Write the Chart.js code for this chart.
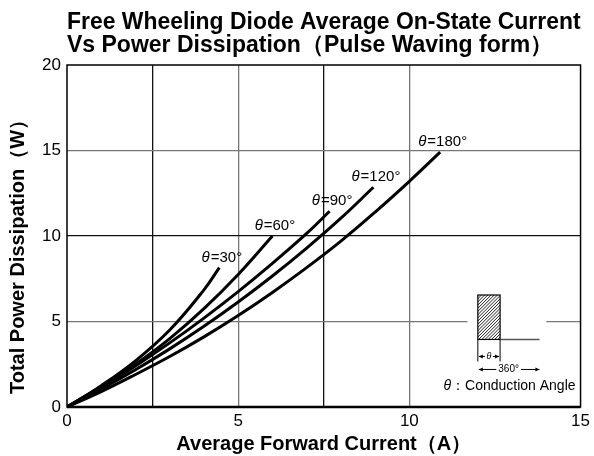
<!DOCTYPE html>
<html>
<head>
<meta charset="utf-8">
<script src="https://cdn.jsdelivr.net/npm/chart.js@4/dist/chart.umd.min.js"></script>
<style>
  html, body { margin: 0; padding: 0; background: #fff; }
  #wrap { width: 594px; height: 456px; }
</style>
</head>
<body>
<div id="wrap"><canvas id="pd"></canvas></div>
<script>
// conduction angles and curves
const angles = ['30', '60', '90', '120', '180'];

const x30 = [0, 1, 2, 3, 4, 4.45];
const p30 = [0, 1.25, 2.7, 4.5, 6.85, 8.15];

const x60 = [0, 1, 2, 3, 4, 5, 6];
const p60 = [0, 1.2, 2.5, 4.0, 5.75, 7.75, 10.0];

const x90 = [0, 1, 2, 3, 4, 5, 6, 7, 7.67];
const p90 = [0, 1.15, 2.4, 3.75, 5.2, 6.75, 8.4, 10.15, 11.45];

const x120 = [0, 1, 2, 3, 4, 5, 6, 7, 8, 8.95];
const p120 = [0, 1.05, 2.18, 3.4, 4.72, 6.14, 7.66, 9.29, 11.04, 12.85];

const x180 = [0, 1, 2, 3, 4, 5, 6, 7, 8, 9, 10, 10.9];
const p180 = [0, 0.9, 1.9, 2.95, 4.1, 5.35, 6.7, 8.15, 9.7, 11.4, 13.2, 14.9];

const xTicks = [0, 5, 10, 15];
const yTicks = [0, 5, 10, 15, 20];

const titleLines = [
    'Free Wheeling Diode Average On-State Current',
    'Vs Power Dissipation（Pulse Waving form）',
];
const yTitle = 'Total Power Dissipation（W）';
const xTitle = 'Average Forward Current（A）';

const FONT = '"Liberation Sans", Arial, sans-serif';

const pts = (xs, ys) => xs.map((x, i) => ({ x: x, y: ys[i] }));
const curves = [
    pts(x30, p30),
    pts(x60, p60),
    pts(x90, p90),
    pts(x120, p120),
    pts(x180, p180),
];

const datasets = curves.map((c, i) => ({
    label: 'θ=' + angles[i] + '°',
    data: c,
    borderColor: '#000',
    borderWidth: 3,
    pointRadius: 0,
    fill: false,
    tension: 0.4,
}));

// title, frame, curve labels and the little waveform inset
const decorations = {
    id: 'decorations',
    beforeDatasetsDraw(chart) {
        const { ctx, scales } = chart;
        const xs = scales.x, ys = scales.y;
        // gap in the 5 W grid line behind the inset
        ctx.save();
        ctx.fillStyle = '#fff';
        ctx.fillRect(xs.getPixelForValue(11.7), ys.getPixelForValue(5) - 2,
            xs.getPixelForValue(14.0) - xs.getPixelForValue(11.7), 4);
        ctx.restore();
    },
    afterDraw(chart) {
        const { ctx, chartArea: a, scales } = chart;
        const xs = scales.x, ys = scales.y;
        ctx.save();

        // frame
        ctx.strokeStyle = '#000';
        ctx.lineWidth = 1.5;
        ctx.strokeRect(a.left, a.top, a.right - a.left, a.bottom - a.top);
        ctx.lineWidth = 2.5;
        ctx.beginPath();
        ctx.moveTo(a.left, a.bottom);
        ctx.lineTo(a.right, a.bottom);
        ctx.stroke();

        // title
        ctx.fillStyle = '#000';
        ctx.font = 'bold 23px ' + FONT;
        ctx.textBaseline = 'alphabetic';
        ctx.textAlign = 'left';
        ctx.fillText(titleLines[0], a.left, 29, a.right - a.left);
        ctx.fillText(titleLines[1], a.left, 52);

        // y axis title
        ctx.save();
        ctx.translate(18, 252);
        ctx.rotate(-Math.PI / 2);
        ctx.font = 'bold 20px ' + FONT;
        ctx.textAlign = 'center';
        ctx.textBaseline = 'middle';
        ctx.fillText(yTitle, 0, 0);
        ctx.restore();

        // curve labels above each curve end
        curves.forEach((c, i) => {
            const end = c[c.length - 1];
            const px = xs.getPixelForValue(end.x);
            const py = ys.getPixelForValue(end.y);
            const rest = '=' + angles[i] + '°';
            ctx.font = 'italic 15px ' + FONT;
            const wt = ctx.measureText('θ').width;
            ctx.font = '15px ' + FONT;
            const wr = ctx.measureText(rest).width;
            const x0 = px - (wt + wr) / 2 + 2;
            ctx.textBaseline = 'alphabetic';
            ctx.textAlign = 'left';
            ctx.font = 'italic 15px ' + FONT;
            ctx.fillText('θ', x0, py - 6);
            ctx.font = '15px ' + FONT;
            ctx.fillText(rest, x0 + wt + 1, py - 6);
        });

        // waveform inset
        const rx0 = xs.getPixelForValue(12.0);
        const rx1 = xs.getPixelForValue(12.65);
        const bx1 = xs.getPixelForValue(13.8);
        const ry0 = ys.getPixelForValue(6.55);
        const ry1 = ys.getPixelForValue(3.95);

        ctx.save();
        ctx.beginPath();
        ctx.rect(rx0, ry0, rx1 - rx0, ry1 - ry0);
        ctx.clip();
        ctx.strokeStyle = '#222';
        ctx.lineWidth = 1;
        for (let k = -60; k < 60; k += 3.2) {
            ctx.beginPath();
            ctx.moveTo(rx0 + k, ry1);
            ctx.lineTo(rx0 + k + (ry1 - ry0), ry0);
            ctx.stroke();
        }
        ctx.restore();
        ctx.strokeStyle = '#000';
        ctx.lineWidth = 1.2;
        ctx.strokeRect(rx0, ry0, rx1 - rx0, ry1 - ry0);
        ctx.strokeStyle = '#555';
        ctx.lineWidth = 1.5;
        ctx.beginPath();
        ctx.moveTo(rx1, ry1);
        ctx.lineTo(bx1, ry1);
        ctx.stroke();

        // theta dimension
        ctx.strokeStyle = '#000';
        ctx.lineWidth = 1;
        ctx.beginPath();
        ctx.moveTo(rx0, ry1);
        ctx.lineTo(rx0, ry1 + 22);
        ctx.moveTo(rx1, ry1);
        ctx.lineTo(rx1, ry1 + 22);
        ctx.stroke();
        const arrow = (x1, x2, y) => {
            ctx.beginPath();
            ctx.moveTo(x1, y);
            ctx.lineTo(x2, y);
            ctx.stroke();
            const d = x2 > x1 ? 1 : -1;
            ctx.beginPath();
            ctx.moveTo(x2, y);
            ctx.lineTo(x2 - d * 4, y - 2);
            ctx.lineTo(x2 - d * 4, y + 2);
            ctx.closePath();
            ctx.fill();
        };
        const dy = ry1 + 17;
        ctx.fillStyle = '#000';
        ctx.font = 'italic 9px ' + FONT;
        ctx.textAlign = 'center';
        ctx.textBaseline = 'middle';
        const mid = (rx0 + rx1) / 2;
        ctx.fillText('θ', mid, dy);
        arrow(mid - 4, rx0 + 1, dy);
        arrow(mid + 4, rx1 - 1, dy);

        // 360 dimension
        const d2 = ry1 + 30;
        ctx.font = '10px ' + FONT;
        const m2 = (rx0 + bx1) / 2;
        const tw = ctx.measureText('360°').width;
        ctx.fillText('360°', m2, d2);
        arrow(m2 - tw / 2 - 2, rx0 + 1, d2);
        arrow(m2 + tw / 2 + 2, bx1, d2);

        // caption
        ctx.textAlign = 'right';
        ctx.textBaseline = 'alphabetic';
        ctx.font = '14px ' + FONT;
        const cap = '：Conduction Angle';
        const cw = ctx.measureText(cap).width;
        ctx.fillText(cap, a.right - 5, ry1 + 51);
        ctx.font = 'italic 14px ' + FONT;
        ctx.fillText('θ', a.right - 5 - cw, ry1 + 51);

        ctx.restore();
    },
};

const gridColor = (v, darkSet, hidden) => {
    if (hidden.includes(v)) return 'rgba(0,0,0,0)';
    return darkSet.includes(v) ? '#111' : '#777';
};

new Chart(document.getElementById('pd'), {
    type: 'line',
    data: { datasets: datasets },
    options: {
        responsive: true,
        maintainAspectRatio: false,
        animation: false,
        layout: { padding: { top: 65, right: 0, left: 0, bottom: 0 } },
        plugins: {
            legend: { display: false },
            tooltip: { enabled: false },
        },
        scales: {
            x: {
                type: 'linear',
                min: 0,
                max: 15,
                afterFit: (s) => { s.height = 49; },
                ticks: {
                    stepSize: 2.5,
                    autoSkip: false,
                    maxRotation: 0,
                    padding: 4,
                    color: '#000',
                    font: { family: FONT, size: 17 },
                    callback: (v) => (xTicks.includes(v) ? String(v) : ''),
                },
                grid: {
                    drawTicks: false,
                    lineWidth: 1.3,
                    color: (c) => gridColor(c.tick.value, [2.5, 7.5], [0, 12.5, 15]),
                },
                border: { display: false },
                title: {
                    display: true,
                    text: xTitle,
                    color: '#000',
                    font: { family: FONT, size: 20, weight: 'bold' },
                    padding: { top: 0, bottom: 0 },
                },
            },
            y: {
                type: 'linear',
                min: 0,
                max: 20,
                afterFit: (s) => { s.width = 67; },
                ticks: {
                    stepSize: 5,
                    padding: 6,
                    color: '#000',
                    font: { family: FONT, size: 17 },
                    callback: (v) => (yTicks.includes(v) ? String(v) : ''),
                },
                grid: {
                    drawTicks: false,
                    lineWidth: 1.3,
                    color: (c) => gridColor(c.tick.value, [10], [0, 20]),
                },
                border: { display: false },
            },
        },
    },
    plugins: [decorations],
});
</script>
</body>
</html>
